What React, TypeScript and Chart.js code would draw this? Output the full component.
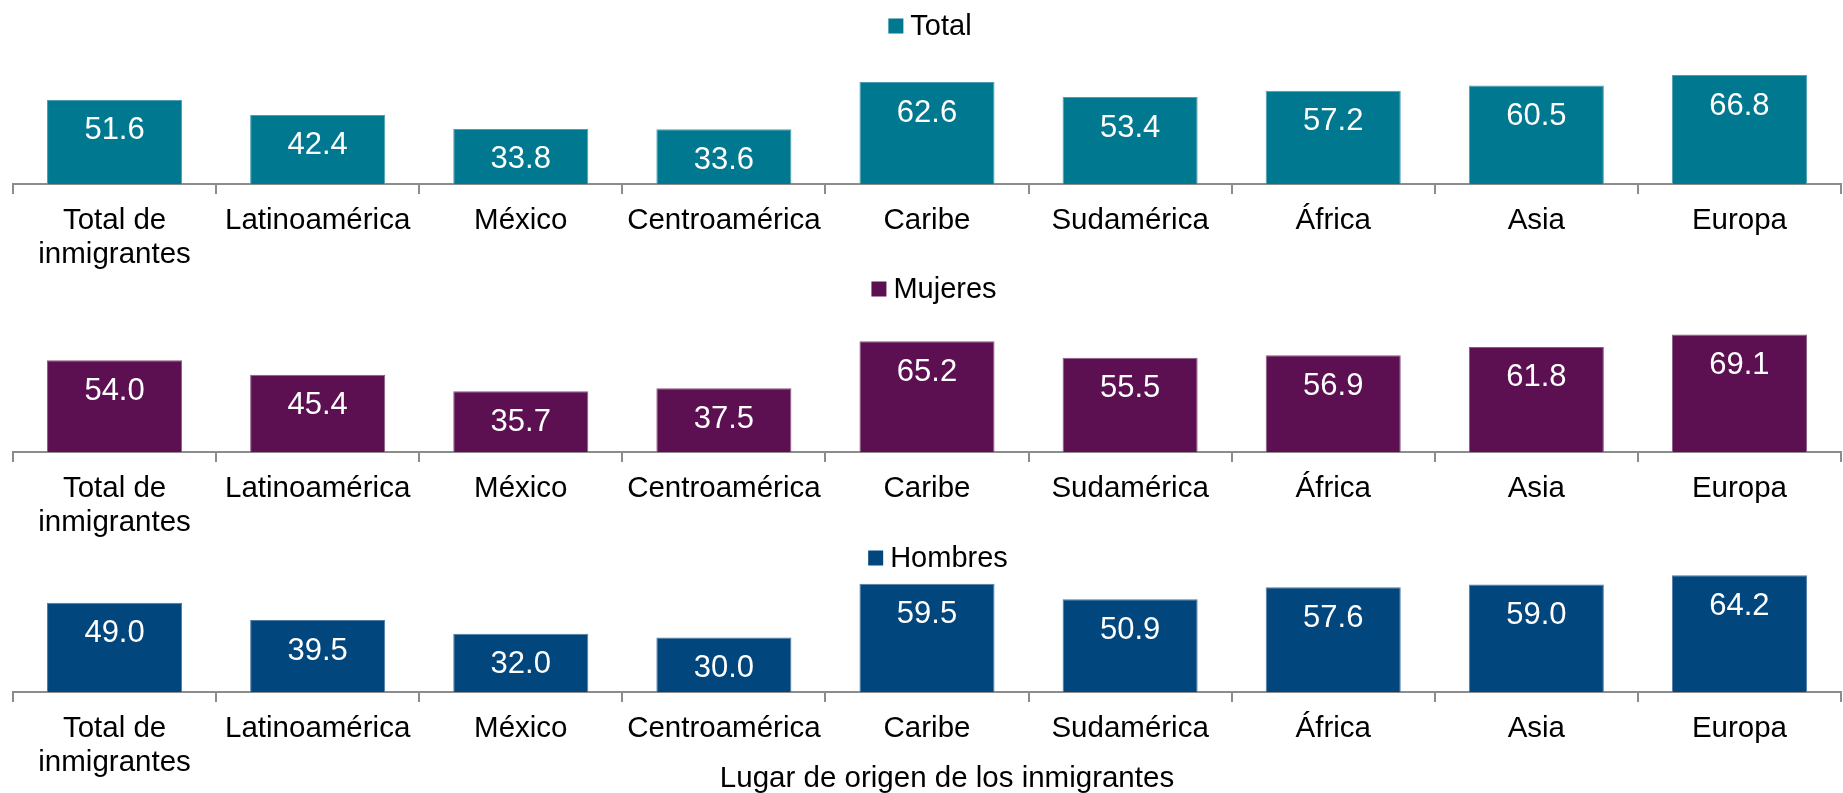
import React, { useEffect, useRef } from "react";
import { Chart, registerables } from "chart.js";

Chart.register(...registerables);

// ---- Data ----
const categories: (string | string[])[] = [
  ["Total de", "inmigrantes"],
  "Latinoamérica",
  "México",
  "Centroamérica",
  "Caribe",
  "Sudamérica",
  "África",
  "Asia",
  "Europa",
];
const totalValues = [51.6, 42.4, 33.8, 33.6, 62.6, 53.4, 57.2, 60.5, 66.8];
const mujeresValues = [54.0, 45.4, 35.7, 37.5, 65.2, 55.5, 56.9, 61.8, 69.1];
const hombresValues = [49.0, 39.5, 32.0, 30.0, 59.5, 50.9, 57.6, 59.0, 64.2];
const seriesNames = ["Total", "Mujeres", "Hombres"];
const axisTitle = "Lugar de origen de los inmigrantes";

const FONT = "'Liberation Sans', Arial, Helvetica, sans-serif";
const W = 1843;

type PanelCfg = {
  label: string;
  values: number[];
  color: string;
  border: string;
  top: number;
  height: number;
  axisY: number; // in canvas coords
  yMax: number;
  legendY: number;
  legendCx: number;
  showTitle: boolean;
};

const AREA_TOP = 50;

const panels: PanelCfg[] = [
  {
    label: seriesNames[0],
    values: totalValues,
    color: "#00788F",
    border: "#4d9fb1",
    top: 0,
    height: 300,
    axisY: 184,
    yMax: (184 - AREA_TOP) / 1.63,
    legendY: 27,
    legendCx: 930,
    showTitle: false,
  },
  {
    label: seriesNames[1],
    values: mujeresValues,
    color: "#5C1052",
    border: "#8a5a84",
    top: 262,
    height: 300,
    axisY: 190,
    yMax: (190 - AREA_TOP) / 1.70,
    legendY: 28,
    legendCx: 934,
    showTitle: false,
  },
  {
    label: seriesNames[2],
    values: hombresValues,
    color: "#01467D",
    border: "#4f7ba3",
    top: 524,
    height: 269,
    axisY: 168,
    yMax: (168 - AREA_TOP) / 1.82,
    legendY: 35,
    legendCx: 938,
    showTitle: true,
  },
];

function Panel({ cfg }: { cfg: PanelCfg }) {
  const ref = useRef<HTMLCanvasElement | null>(null);
  useEffect(() => {
    if (!ref.current) return;
    const valueLabels = {
      id: "valueLabels",
      afterDatasetsDraw(chart: any) {
        const ctx = chart.ctx;
        const meta = chart.getDatasetMeta(0);
        const data = chart.data.datasets[0].data as number[];
        ctx.save();
        ctx.fillStyle = "#ffffff";
        ctx.font = `31px ${FONT}`;
        ctx.textAlign = "center";
        ctx.textBaseline = "middle";
        meta.data.forEach((bar: any, i: number) => {
          ctx.fillText(data[i].toFixed(1), bar.x, bar.y + 31);
        });
        ctx.restore();
      },
    };
    const legendPlugin = {
      id: "customLegend",
      afterDraw(chart: any) {
        const ctx = chart.ctx;
        const ds = chart.data.datasets[0];
        ctx.save();
        ctx.font = `29px ${FONT}`;
        const tw = ctx.measureText(ds.label).width;
        const box = 15;
        const gap = 7;
        const total = box + gap + tw;
        const x0 = cfg.legendCx - total / 2;
        ctx.fillStyle = ds.backgroundColor;
        ctx.fillRect(x0, cfg.legendY - box / 2 - 1, box, box);
        ctx.fillStyle = "#000000";
        ctx.textAlign = "left";
        ctx.textBaseline = "middle";
        ctx.fillText(ds.label, x0 + box + gap, cfg.legendY);
        if (cfg.showTitle) {
          ctx.font = `29.5px ${FONT}`;
          ctx.textAlign = "center";
          ctx.fillText(axisTitle, 947, 255);
        }
        ctx.restore();
      },
    };
    const xHeight = cfg.height - cfg.axisY;
    const chart = new Chart(ref.current, {
      type: "bar",
      data: {
        labels: categories,
        datasets: [
          {
            label: cfg.label,
            data: cfg.values,
            backgroundColor: cfg.color,
            borderColor: cfg.border,
            borderWidth: 1,
            borderSkipped: "start",
            barPercentage: 0.665,
            categoryPercentage: 1.0,
          },
        ],
      },
      options: {
        responsive: false,
        animation: false,
        devicePixelRatio: 1,
        layout: { padding: { top: AREA_TOP, left: 13, right: 2, bottom: 0 } },
        plugins: {
          legend: { display: false },
          tooltip: { enabled: false },
          title: { display: false },
        },
        scales: {
          y: {
            display: false,
            min: 0,
            max: cfg.yMax,
          },
          x: {
            offset: true,
            afterFit: (scale: any) => {
              scale.height = xHeight;
            },
            grid: {
              display: true,
              drawOnChartArea: false,
              drawTicks: true,
              tickLength: 10,
              color: "#8c8c8c",
              lineWidth: 2,
              offset: true,
            },
            border: { display: true, color: "#8c8c8c", width: 2 },
            ticks: {
              autoSkip: false,
              maxRotation: 0,
              minRotation: 0,
              padding: 10.5,
              color: "#000000",
              font: { family: FONT, size: 29.5, lineHeight: 1.14 },
            },
          },
        },
      },
      plugins: [valueLabels, legendPlugin],
    });
    return () => chart.destroy();
  }, [cfg]);
  return (
    <canvas
      ref={ref}
      width={W}
      height={cfg.height}
      style={{ position: "absolute", left: 0, top: cfg.top, width: W, height: cfg.height }}
    />
  );
}

export default function App() {
  return (
    <div style={{ position: "absolute", left: 0, top: 0, width: W, height: 793, background: "#ffffff" }}>
      {panels.map((p) => (
        <Panel key={p.label} cfg={p} />
      ))}
    </div>
  );
}
